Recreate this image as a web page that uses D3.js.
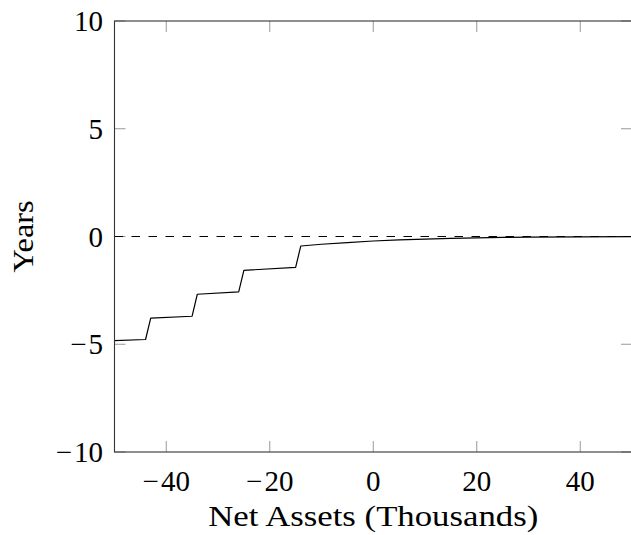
<!DOCTYPE html>
<html>
<head>
<meta charset="utf-8">
<style>
  body { margin: 0; background: #fff; }
  svg text { font-family: 'Liberation Serif', 'DejaVu Serif', serif; fill: #000; }
</style>
</head>
<body>
<div id="chart"></div>
<script src="https://d3js.org/d3.v7.min.js"></script>
<script>
// data (net assets in thousands, years)
const assets = [-50, -44, -43, -35, -34, -26, -25, -15, -14, -10, -5, 0, 5, 10, 15, 20, 25, 30, 40, 50];
const years  = [-4.83, -4.78, -3.79, -3.70, -2.68, -2.57, -1.57, -1.43, -0.44, -0.36, -0.28, -0.21, -0.16, -0.12, -0.085, -0.06, -0.045, -0.03, -0.015, -0.005];
const xTicks = [-40, -20, 0, 20, 40];
const yTicks = [-10, -5, 0, 5, 10];

const width = 631, height = 535;
const plotL = 114.5, plotR = 632, plotT = 21, plotB = 452;

const x = d3.scaleLinear().domain([-50, 50]).range([plotL, plotR]);
const y = d3.scaleLinear().domain([-10, 10]).range([plotB, plotT]);

const svg = d3.select('#chart').append('svg')
    .attr('width', width)
    .attr('height', height);

svg.append('clipPath').attr('id', 'plot')
  .append('rect')
    .attr('x', plotL).attr('y', plotT)
    .attr('width', plotR - plotL).attr('height', plotB - plotT);

// inward ticks on all four sides
const tickLen = 11;
const ticks = svg.append('g').attr('stroke', '#999').attr('stroke-width', 1);
xTicks.forEach(t => {
  ticks.append('line').attr('x1', x(t)).attr('x2', x(t)).attr('y1', plotB).attr('y2', plotB - tickLen);
  ticks.append('line').attr('x1', x(t)).attr('x2', x(t)).attr('y1', plotT).attr('y2', plotT + tickLen);
});
yTicks.forEach(t => {
  ticks.append('line').attr('x1', plotL).attr('x2', plotL + tickLen).attr('y1', y(t)).attr('y2', y(t));
  ticks.append('line').attr('x1', plotR).attr('x2', plotR - tickLen).attr('y1', y(t)).attr('y2', y(t));
});

// zero reference line
svg.append('line')
    .attr('x1', plotL).attr('x2', plotR)
    .attr('y1', y(0)).attr('y2', y(0))
    .attr('stroke', '#000')
    .attr('stroke-width', 1.1)
    .attr('stroke-dasharray', '8.5,8.5');

// the series
const line = d3.line()
    .x((d, i) => x(assets[i]))
    .y(d => y(d));

svg.append('path')
    .datum(years)
    .attr('clip-path', 'url(#plot)')
    .attr('fill', 'none')
    .attr('stroke', '#000')
    .attr('stroke-width', 1.2)
    .attr('stroke-linejoin', 'round')
    .attr('d', line);

// frame
svg.append('rect')
    .attr('x', plotL).attr('y', plotT)
    .attr('width', plotR - plotL).attr('height', plotB - plotT)
    .attr('fill', 'none')
    .attr('stroke', '#333')
    .attr('stroke-width', 1.1);

// tick labels, TeX-like minus: a bit longer, small gap after it
function tickText(sel) {
  sel.each(function(d) {
    const t = d3.select(this);
    if (d < 0) {
      t.append('tspan').text('\u2212');
      t.append('tspan').attr('dx', 2).text(Math.abs(d));
    } else {
      t.append('tspan').text(d);
    }
  });
}

svg.append('g').selectAll('text')
  .data(xTicks)
  .join('text')
    .attr('x', d => x(d))
    .attr('y', 491)
    .attr('text-anchor', 'middle')
    .style('font-size', '29px')
    .call(tickText);

svg.append('g').selectAll('text')
  .data(yTicks)
  .join('text')
    .attr('x', 103)
    .attr('y', d => y(d) + 10)
    .attr('text-anchor', 'end')
    .style('font-size', '29px')
    .call(tickText);

// axis titles
svg.append('text')
    .attr('x', (plotL + plotR) / 2)
    .attr('y', 526)
    .attr('text-anchor', 'middle')
    .attr('textLength', 330)
    .attr('lengthAdjust', 'spacingAndGlyphs')
    .style('font-size', '30px')
    .text('Net Assets (Thousands)');

svg.append('text')
    .attr('transform', `translate(33,${y(0)}) rotate(-90)`)
    .attr('text-anchor', 'middle')
    .attr('textLength', 72)
    .attr('lengthAdjust', 'spacingAndGlyphs')
    .style('font-size', '30px')
    .text('Years');
</script>
</body>
</html>
